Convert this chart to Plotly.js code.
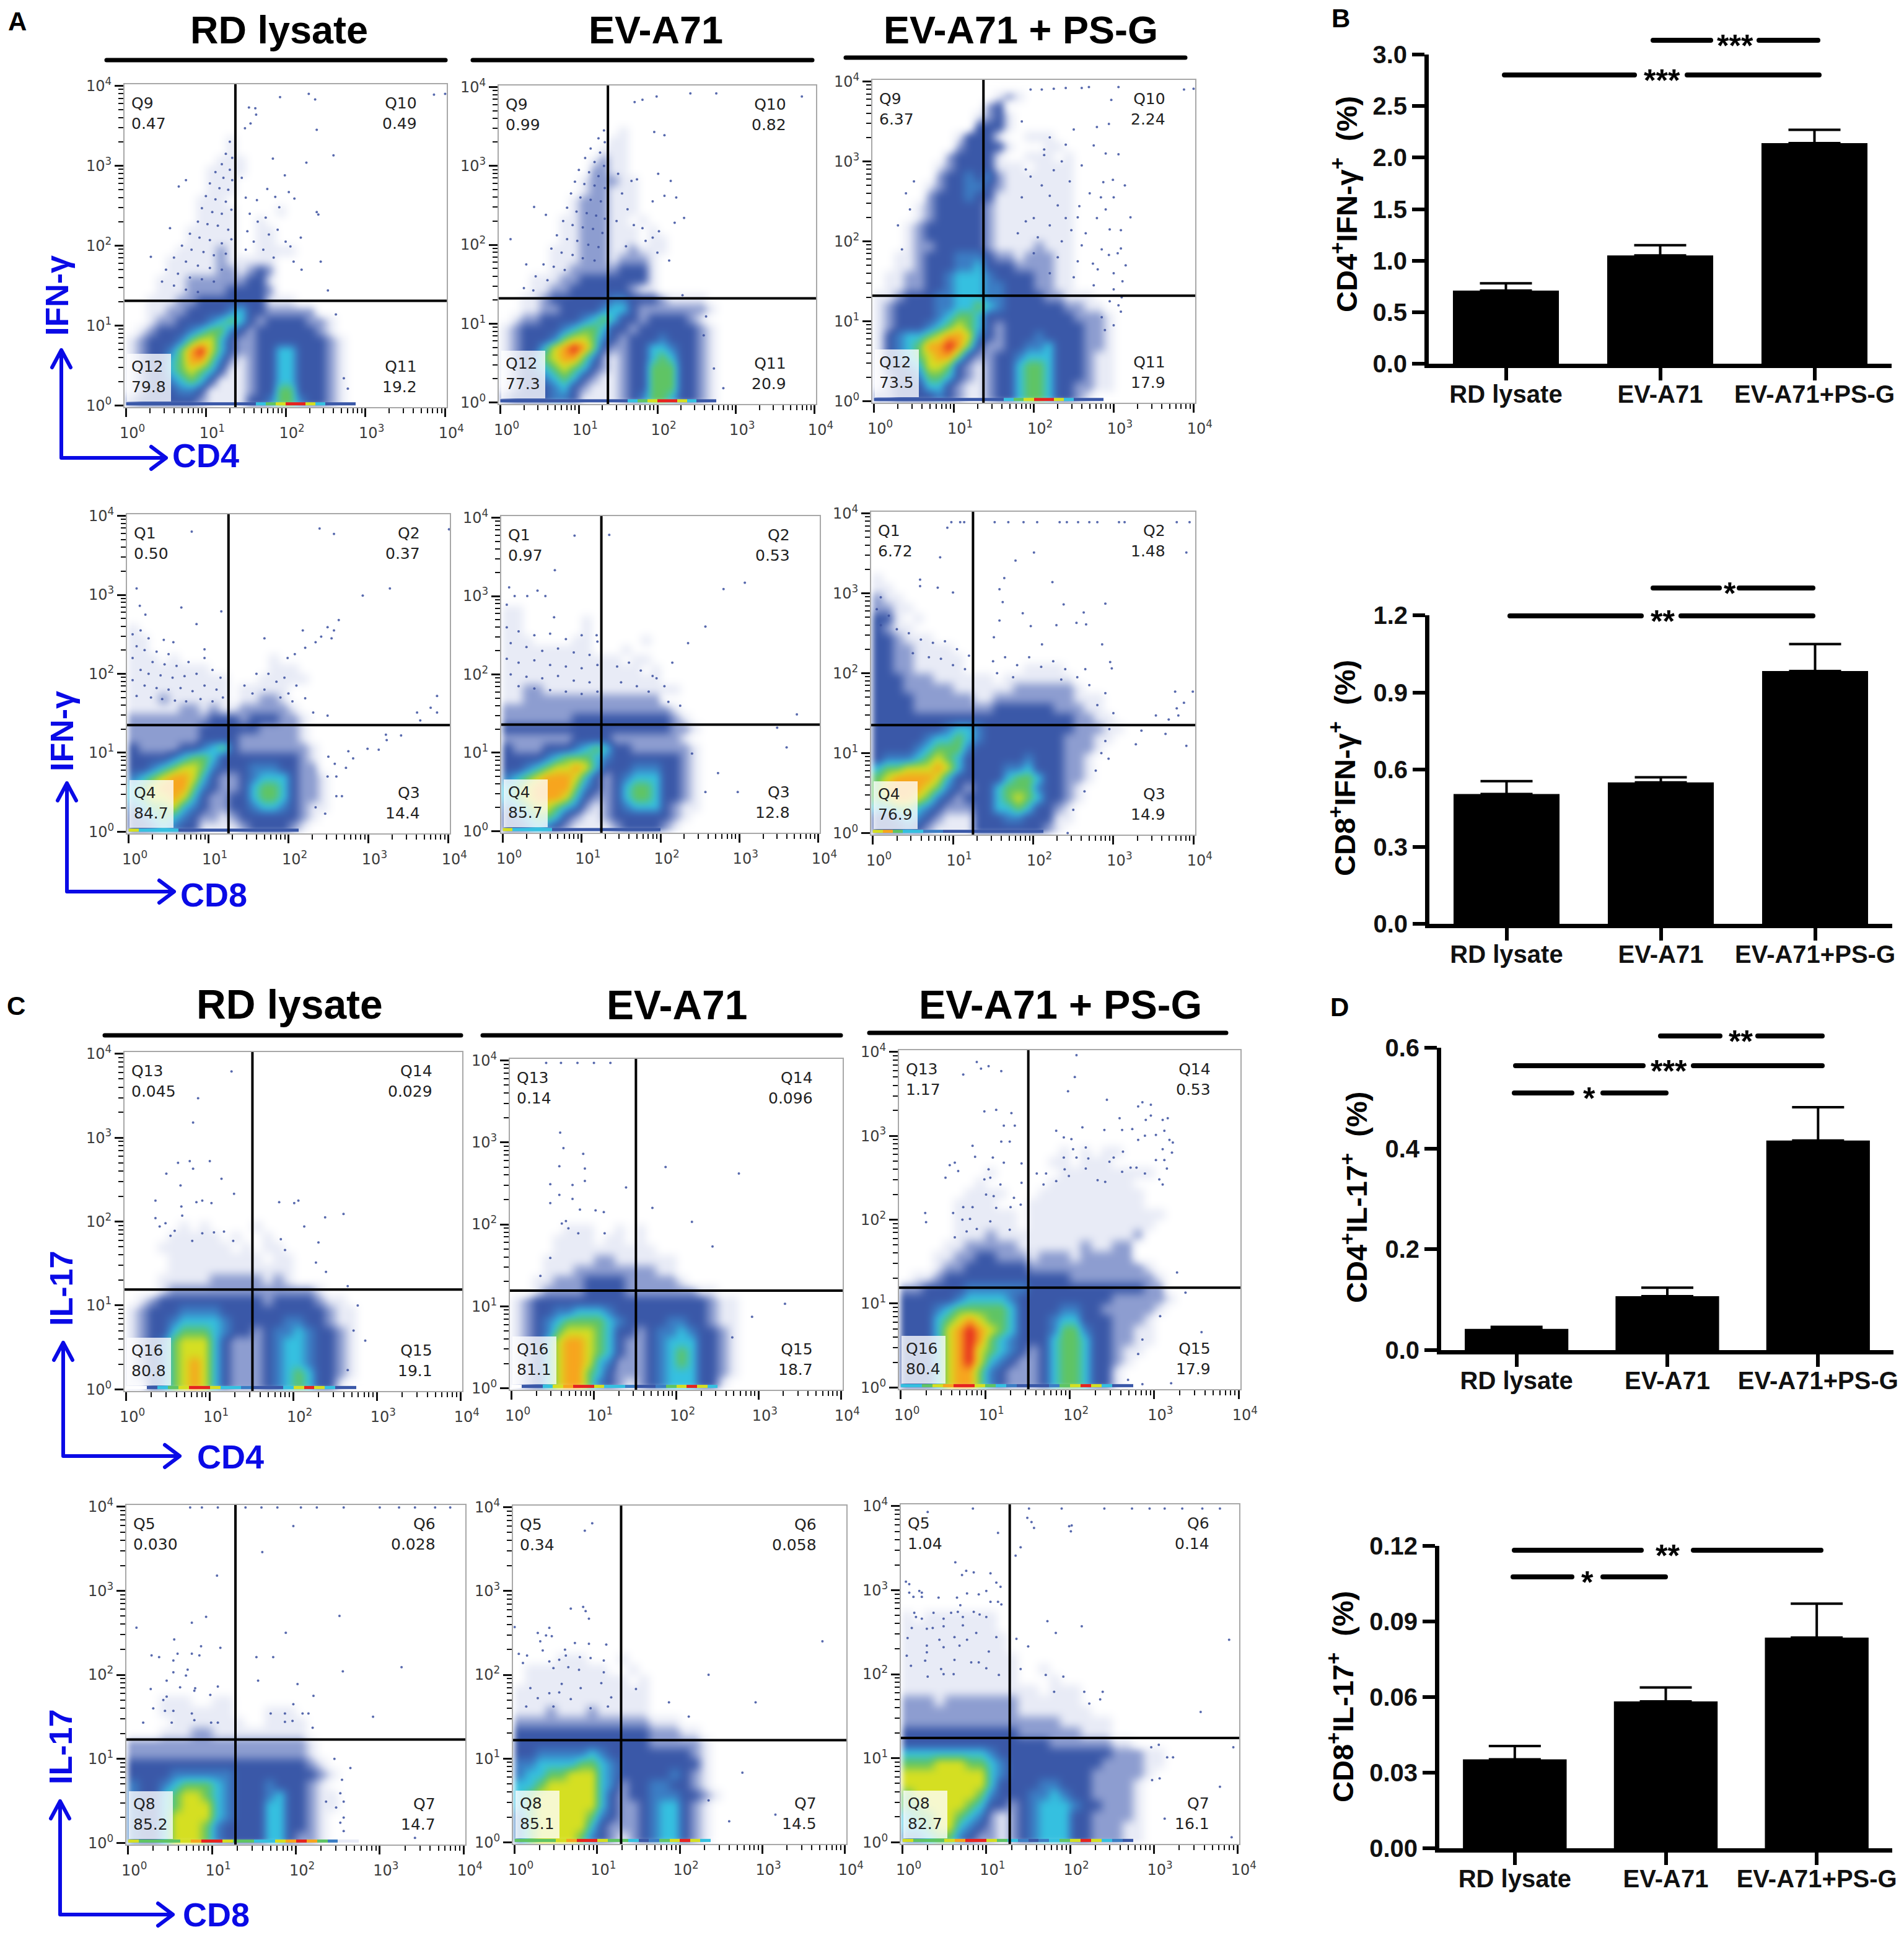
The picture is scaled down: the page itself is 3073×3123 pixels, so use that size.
<!DOCTYPE html>
<html>
<head>
<meta charset="utf-8">
<script src="https://cdn.plot.ly/plotly-3.0.1.min.js"></script>
<style>
  html, body { margin: 0; padding: 0; background: #fff; }
  .shapelayer path { stroke-linecap: round; stroke-linejoin: round; }
  .heatmaplayer .hm:first-child image { filter: blur(5px); }
</style>
</head>
<body>
<div id="figure"></div>
<script>
// bar panels, values
const groups = ['RD lysate', 'EV-A71', 'EV-A71+PS-G']
const cd4Ifn = [0.71, 1.05, 2.14]
const cd4IfnErr = [0.07, 0.10, 0.13]
const cd8Ifn = [0.505, 0.55, 0.983]
const cd8IfnErr = [0.05, 0.02, 0.105]
const cd4Il17 = [0.042, 0.107, 0.416]
const cd4Il17Err = [0.004, 0.017, 0.066]
const cd8Il17 = [0.0353, 0.0583, 0.0836]
const cd8Il17Err = [0.0053, 0.0055, 0.0135]

const cd4IfnTicks = ['0.0', '0.5', '1.0', '1.5', '2.0', '2.5', '3.0']
const cd8IfnTicks = ['0.0', '0.3', '0.6', '0.9', '1.2']
const cd4Il17Ticks = ['0.0', '0.2', '0.4', '0.6']
const cd8Il17Ticks = ['0.00', '0.03', '0.06', '0.09', '0.12']

// quadrant names and percentages: top left, top right, bottom right, bottom left
const qA1 = ['Q9', 'Q10', 'Q11', 'Q12']
const qA2 = ['Q1', 'Q2', 'Q3', 'Q4']
const qC1 = ['Q13', 'Q14', 'Q15', 'Q16']
const qC2 = ['Q5', 'Q6', 'Q7', 'Q8']
const pctA1 = [['0.47', '0.49', '19.2', '79.8'], ['0.99', '0.82', '20.9', '77.3'], ['6.37', '2.24', '17.9', '73.5']]
const pctA2 = [['0.50', '0.37', '14.4', '84.7'], ['0.97', '0.53', '12.8', '85.7'], ['6.72', '1.48', '14.9', '76.9']]
const pctC1 = [['0.045', '0.029', '19.1', '80.8'], ['0.14', '0.096', '18.7', '81.1'], ['1.17', '0.53', '17.9', '80.4']]
const pctC2 = [['0.030', '0.028', '14.7', '85.2'], ['0.34', '0.058', '14.5', '85.1'], ['1.04', '0.14', '16.1', '82.7']]

// gate positions in decades
const gatesX = [1.37, 1.37, 1.37, 1.25, 1.25, 1.25, 1.51, 1.51, 1.51, 1.28, 1.29, 1.28]
const gatesY = [1.31, 1.32, 1.32, 1.35, 1.36, 1.35, 1.19, 1.19, 1.19, 1.23, 1.22, 1.24]

// density read by eye, one digit per 1/8 decade cell (0 empty .. 9 red).
// rows run top to bottom and end at the axis, missing cells are empty
const gridA1a = ['00000000001', '00000000001', '0000000001110', '000000001111', '00000000111', '00000000111', '0000000111', '0000000111100001', '00000001111001', '000000111110011', '00000011111001100', '00000111121001111', '0000111112111110', '000011111221232', '0001112222223310', '000111222233332', '0011122333333311100', '0011223333453322222', '0012233345653233332210', '0123334566432333333210', '1233346775322333333321', '1233468975322335533321', '1233568864212335533321', '1233567653112335533321', '1233456531112335533321', '1233344311112336633321', '2333333211113346643321']
const gridA1b = ['0000000000001', '0000000000011', '00000000001110', '0000000001211', '0000000002211', '00000000122211', '00000000122111', '00000001222111', '00000001222111', '0000001122211010', '0000001122211101', '00000011222111011', '00000111222112111', '0000011122212221', '0000011222223331', '0001112233333331', '0001122333333211', '0011233333344333211110', '0011223333455322222221', '0122333345653323333210', '1233334566533233333321', '1233346776432333433321', '1233578986322335543321', '1234678864212335653321', '1234567653212336663321', '1233456532112336663321', '1233345321112336663321', '2333344311112346653321']
const gridA1c = ['000000000000121000', '0000000000023', '000000000012310', '00000000003331', '000000001333100111', '0000000023333100011', '00000002333310011101', '00000012333311101111', '000000233434211111110', '00000123344321111111', '00000233343311111111', '00001233333211111111', '00001233333211111111', '00012333333211111111', '00012333333211111111', '00012233333211112111', '00112333444322122211', '00112333445333222211', '01122334555433332211', '01122334555443332211', '11233344555443333221110', '12333344556543333332211', '123333456653333333332221', '123334567653233333333221', '134556788743233343333221', '134568898632233445333221', '134567886322334555333211', '133457763212335665333211', '123346653212335665333211', '123335532112335665332211', '223333432112335665332100']
const gridA2a = ['1', '11', '11', '1110100000000010', '11111111000000111', '111111111100011111', '1111111111011111', '1112111111011221', '11111221211222221', '2222222233323332210', '22222223333332222100', '2222222333322222210', '3222233456322222221', '33334566533333333210', '3345677643334443322', '45678875322345553221', '56788864322356653221', '56778753223356653221', '45667543223345543211', '34565432212333333210', '33454331111233332100']
const gridA2b = ['11', '1100000010', '11000000100', '111000011000001', '1111111110001', '1111111111110110', '1111111111111101', '1111111111111111', '1122111111111111110', '1122222222222222', '2222222222222222210', '22222223333333333210', '33333333333333333221', '2222222333322222221', '32223334565332222221', '33334566654333333321', '33456778753334443321', '45678887532345553321', '56788886432356653321', '56788875322356653321', '45677654212345553211', '34566532112333333210', '33454321111233332100']
const gridA2c = ['10', '110', '211', '2211', '33101', '3211000000000', '3321110', '33221111', '332211111', '3322111110000001111', '33322211111101111111', '3332222211111122222210', '33332222221122222222111', '33332222222233333322211', '3333333333333333333322110', '33333334554333333333222110', '3333345565433333333222110', '3333456664333333333222100', '3444567653333334333221000', '5667778753333445333221', '6788887533333566533221', '6888876432335666433210', '6788764323335676533210', '5566543222335565332100', '3345432111333443331100', '3334321111333333321000']
const gridC1a = ['000001010000100', '000011111010010', '000111111101011', '00001111111110110', '00001111111111110', '00011111222221210', '0001222222222222221000', '0123333333333233332110', '1233344443333333333211', '1233455554333334433211', '1233566654332344543321', '1234677753222345543321', '1234677753222345543321', '1234678753222345543321', '1234678753222345653321', '1134678753222345653310']
const gridC1b = ['00000111001010', '0000111101101', '00001111111111', '0001111122111111', '0001112222222211', '00112223333222221', '0012222333322222221100', '1233333333333333333211', '1233445554333333333211', '1234566665433334433211', '1234677765332344543321', '1235788765322345553321', '1235788765322345653321', '1235788754222345653321', '1235788653222345553321', '1235788643212345553310']
const gridC1c = ['0000000000000001010110', '00000000000000110111', '000000001000000111111111', '0000000100000011111111', '00000011110001111111111', '00000111100011111111111', '0000011111101111111111111', '000001111110111111111111', '00000111211111111111112', '0000112222211111121122', '0001122332221222122222', '000122333333222222222221', '0112333333333333222222221', '2233334444443333333333322', '33333455554333333333222221', '33345666665333344332222210', '33356787665333455333222100', '33357898765333466433221100', '33357898654333566533221100', '33357897654323566533211000', '33357897543223566533210000', '33357886432223566533100000', '33357886432223566533100000']
const gridC2a = ['0001110011000000', '0001111111000111', '00001111111001111', '000111221111111110', '22222222222222222100', '22222222222222222100', '333333333333333332100', '333344444433333333210', '4334566654333433321', '4335677654333453321100', '4335677754333553321100', '4335777754333553321000', '4335777643333553321000', '4335777643333553221000']
const gridC2b = ['00001110001000000', '011111111001', '0111111111101', '1111111111111', '1111111111111', '1112111211111', '2222222222222111', '3333333333333222110', '33333333333332222210', '33444445433333333210', '4455556654333333331', '45566777543333343210', '55677777542334433210', '56777777532334443321', '56777777532234553210', '46777776432234553210', '46777775322234553210', '46777764321234553210']
const gridC2c = ['101111111', '1111111110', '1111111111', '1111111111', '11111111111000', '11111111111001', '1111111111100010', '11111111111110111', '22212222222111111', '2222222222211111110', '222222222222222111110', '3333333333322222211100', '33333333333333222222110', '55555555433333333333222110', '66677766543333333332222110', '77777777543333333322222100', '77777777533334433322221', '67777776433344543322221', '66777765332345554332221', '56677654212345553322221', '55677543212345553322211', '44566432212345553322211']

// thin strip lying on the x axis
const edgeA1a = '33333333333335679975333'
const edgeA1b = '3333333333333567997533'
const edgeA1c = '33333333333335679975333'
const edgeA2a = '75555333333333333'
const edgeA2b = '7555533333333333'
const edgeA2c = '78655443333333333'
const edgeC1a = '0035679975543335797533'
const edgeC1b = '03357899755433467975'
const edgeC1c = '5567899765433346797533'
const edgeC2a = '7666678997665578986411'
const edgeC2b = '6666789976653467975'
const edgeC2c = '7666789976543456797543'

// single events, [x, y] in decades
const dotsA1a = [[2.29,3.9],[1.93,3.86],[2.37,3.83],[3.86,3.89],[4,3.9],[1.54,3.73],[1.62,3.72],[1.63,3.64],[1.56,3.53],[1.49,3.47],[2.39,3.45],[2.6,3.13],[1.84,3.09],[2.26,3.04],[1.99,2.88],[.75,2.82],[.66,2.74],[1.77,2.71],[1.87,2.61],[2.04,2.67],[2.11,2.59],[1.64,2.57],[2.39,2.42],[2.41,2.39],[1.92,2.48],[.55,2.22],[.31,1.86],[2.44,1.8],[2.19,2.1],[2.53,1.44],[2.63,1.14],[2.78,.21],[2.73,.34],[1.52,2.18],[1.79,2.14],[2.06,1.99],[1.3,3.3],[1.25,3.15],[1.33,3.1],[1.2,3.02],[1.3,2.95],[1.12,2.92],[1.22,2.85],[1.33,2.82],[1.05,2.78],[1.17,2.72],[1.28,2.7],[1,2.62],[1.12,2.58],[1.25,2.55],[.95,2.47],[1.08,2.42],[1.2,2.4],[1.32,2.45],[.9,2.3],[1.02,2.27],[1.15,2.25],[1.28,2.2],[.8,2.15],[.92,2.1],[1.05,2.07],[1.2,2.03],[1.32,2.08],[.7,2],[.82,1.95],[.97,1.92],[1.1,1.88],[1.25,1.9],[.6,1.85],[.75,1.8],[.9,1.75],[1.05,1.72],[1.2,1.7],[.5,1.7],[.65,1.65],[.8,1.6],[.95,1.58],[1.1,1.55],[.45,1.55],[.6,1.5],[.75,1.45],[.9,1.42],[1.45,2.85],[1.5,2.6],[1.55,2.4],[1.65,2.3],[1.75,2.35],[1.9,2.2],[2,2.05],[1.6,2.05],[1.72,1.95],[1.85,1.85],[2.1,1.8],[2.2,1.7],[1.5,1.95]]
const dotsA1b = [[1.71,3.81],[1.81,3.84],[1.99,3.88],[2.42,3.92],[2.75,3.92],[3.84,3.88],[1.96,3.43],[2.09,3.39],[2.01,2.9],[1.67,2.81],[2.17,2.81],[1.74,2.83],[2.09,2.62],[2.24,2.6],[1.94,2.55],[2.34,2.34],[2.22,2.28],[1.94,2.09],[1.81,2.21],[2.02,2.17],[2.32,1.36],[2.62,1.09],[2.72,.43],[2.84,.18],[2.59,.85],[.13,2.07],[.43,2.48],[.58,2.38],[.33,1.75],[1.32,3.45],[1.25,3.35],[1.33,3.3],[1.15,3.22],[1.27,3.17],[1.08,3.1],[1.2,3.05],[1.32,3],[1,2.95],[1.13,2.92],[1.25,2.87],[.95,2.8],[1.07,2.77],[1.2,2.75],[1.33,2.72],[.9,2.65],[1.02,2.6],[1.15,2.57],[1.28,2.55],[.85,2.47],[.97,2.42],[1.1,2.4],[1.22,2.37],[1.33,2.33],[.8,2.3],[.92,2.25],[1.05,2.22],[1.18,2.2],[1.3,2.15],[.72,2.12],[.85,2.07],[.98,2.05],[1.12,2],[1.25,1.97],[.65,1.95],[.78,1.9],[.92,1.87],[1.05,1.83],[1.2,1.8],[.55,1.75],[.68,1.72],[.82,1.68],[.45,1.6],[.6,1.55],[.3,1.45],[.42,1.42],[1.5,2.9],[1.55,2.65],[1.62,2.45],[1.48,2.3],[1.7,2.25],[1.85,2.05],[2,1.9],[2.15,1.8],[1.6,1.98]]
const dotsA1c = [[1.96,3.9],[2.1,3.9],[2.25,3.91],[2.4,3.92],[2.6,3.92],[2.69,3.93],[3.06,3.93],[3.88,3.9],[4,3.91],[2.97,3.77],[2.79,3.43],[2.94,3.47],[2.13,3.15],[2.4,3.21],[3.06,3.09],[2.13,3.08],[1.96,2.81],[2.25,2.89],[2.87,2.74],[2.99,2.77],[3.14,2.7],[2.2,2.57],[2.84,2.55],[2.57,2.44],[3.21,2.3],[2.79,2.29],[2.4,2.29],[2,2.29],[2.47,2.14],[3.09,2.14],[3.09,1.91],[2.94,1.83],[2.74,1.72],[3.11,1.5],[3.06,1.2],[3.09,1.12],[2.89,.89],[1.85,3.5],[2.5,3.4],[2.2,3.3],[2.75,3.2],[2.9,3.1],[2.35,3],[2.6,2.95],[1.9,2.9],[2.1,2.7],[2.45,2.75],[2.7,2.6],[3,2.55],[1.85,2.55],[2.3,2.45],[2.55,2.3],[2.9,2.4],[1.9,2.25],[2.2,2.2],[2.65,2.1],[2.95,2.15],[1.8,2.1],[2.05,2.05],[2.35,2],[2.6,1.95],[2.85,1.9],[3.05,1.85],[2,1.85],[2.3,1.8],[2.55,1.75],[2.8,1.65],[3,1.6],[3.15,1.7],[2.2,1.6],[2.5,1.55],[2.75,1.45],[3,1.4],[2.95,1.25],[3.1,1.3],[2.85,1.05],[3,.95],[.4,2.6],[.5,2.75],[.45,2.4],[.3,2.2],[.35,1.9]]
const dotsA2a = [[.79,3.8],[2.39,3.84],[2.57,3.77],[4.01,3.83],[.1,3.08],[3.27,3.08],[2.93,2.99],[.14,2.86],[.66,2.84],[1.16,2.79],[.21,2.75],[.85,2.63],[2.63,2.68],[2.49,2.59],[2.57,2.55],[2.18,2.55],[1.7,2.45],[2.41,2.47],[2.54,2.45],[2.34,2.4],[2.21,2.33],[2.08,2.25],[1.99,2.2],[.95,2.31],[.44,2.43],[.56,2.4],[3.86,1.72],[3.78,1.57],[3.61,1.51],[3.86,1.51],[3.65,1.41],[2.21,1.69],[2.31,1.51],[2.49,1.47],[3.22,1.23],[3.41,1.22],[3.23,1.16],[2.99,1.05],[3.13,1.04],[2.75,1.02],[2.81,.93],[2.5,.95],[2.58,.86],[2.72,.81],[2.6,.7],[2.49,.7],[2.6,.45],[2.67,.45],[2.34,.31],[2.46,.23],[.05,2.5],[.15,2.55],[.25,2.45],[.1,2.35],[.2,2.3],[.35,2.28],[.5,2.25],[.05,2.2],[.3,2.15],[.45,2.12],[.6,2.1],[.75,2.15],[.95,2.2],[1.05,2.05],[.15,2.05],[.25,2],[.4,1.98],[.55,1.95],[.7,1.97],[.85,2],[1.15,1.95],[.05,1.92],[.2,1.85],[.35,1.82],[.5,1.8],[.65,1.82],[.8,1.78],[.95,1.85],[1.1,1.8],[.1,1.72],[.28,1.7],[.42,1.68],[.58,1.66],[.72,1.65],[.9,1.68],[1.05,1.65],[1.18,1.7],[1.45,1.85],[1.6,2],[1.75,2],[1.85,1.9],[1.95,1.95],[2,1.75],[1.7,1.8],[1.55,1.75],[2.1,1.85],[2.05,1.65],[1.9,1.7]]
const dotsA2b = [[.91,3.77],[1.35,3.78],[.66,3.33],[.08,3.11],[.15,3],[.31,3],[.44,3.07],[.54,3],[.05,2.89],[.65,2.73],[1.19,2.5],[3.07,3.17],[2.8,3.09],[2.57,2.61],[2.35,2.4],[2.15,2.15],[1.9,1.98],[3.73,1.49],[3.48,1.32],[3.6,1.07],[2.4,.99],[2.73,.74],[2.98,.5],[2.57,.5],[.05,2.6],[.2,2.55],[.4,2.5],[.6,2.52],[.8,2.45],[1,2.5],[1.2,2.42],[.1,2.4],[.3,2.35],[.5,2.3],[.7,2.33],[.9,2.28],[1.1,2.25],[.05,2.2],[.2,2.15],[.4,2.18],[.6,2.12],[.8,2.1],[1,2.08],[1.2,2.12],[.1,2],[.3,1.97],[.5,1.95],[.7,1.98],[.9,1.92],[1.1,1.9],[.2,1.85],[.4,1.82],[.6,1.8],[.8,1.78],[1,1.75],[1.2,1.78],[1.45,2.1],[1.6,2.15],[1.75,2.05],[1.95,1.95],[2.05,1.85],[1.5,1.9],[1.7,1.85],[1.85,1.78],[2.1,1.65],[2.25,1.6]]
const dotsA2c = [[.98,3.89],[1.09,3.89],[1.14,3.89],[1.52,3.89],[1.69,3.89],[1.88,3.89],[2.05,3.89],[2.33,3.89],[2.42,3.89],[2.56,3.89],[2.7,3.89],[2.8,3.89],[3.07,3.89],[3.14,3.89],[3.79,3.89],[3.95,3.89],[.93,3.82],[2.01,3.51],[1.78,3.41],[3.91,3.51],[.84,3.45],[1.64,3.19],[.59,3.17],[2.24,3.14],[.59,3.09],[.81,3.07],[1.58,3.05],[1,3.01],[2.9,2.87],[2.38,2.86],[1.62,2.89],[1.87,2.75],[2.63,2.76],[2.54,2.63],[2.66,2.61],[2.29,2.6],[1.97,2.59],[1.58,2.66],[1.51,2.45],[2.86,2.36],[2.11,2.36],[2.96,2.14],[2.98,2.06],[3.77,1.77],[3.88,1.63],[3.79,1.56],[3.99,1.77],[3.53,1.47],[3.81,1.47],[3.69,1.42],[3.35,1.28],[3.65,1.24],[3.28,1.11],[3.91,1.09],[2.94,.93],[2.78,.78],[2.64,.52],[2.5,.29],[2.43,0],[.1,2.95],[.05,2.8],[.2,2.72],[.1,2.6],[.3,2.55],[.45,2.5],[.6,2.42],[.75,2.38],[.9,2.4],[1.05,2.3],[1.2,2.22],[.5,2.25],[.7,2.2],[.85,2.18],[1,2.1],[1.15,2.05],[1.5,2.15],[1.65,2.2],[1.8,2.1],[1.95,2.2],[2.1,2.08],[2.25,2.15],[2.4,2.05],[2.55,1.95],[2.65,2.05],[1.55,2],[1.75,1.95],[2.35,1.92],[2.7,1.85],[2.9,1.75],[2.8,1.6],[3,1.5],[2.95,1.3],[2.9,1.15],[2.85,1]]
const dotsC1a = [[1.26,3.79],[.86,3.47],[.8,3.18],[.62,2.7],[.76,2.72],[1,2.72],[.8,2.63],[.48,2.57],[1.14,2.51],[.65,2.43],[1.29,2.33],[.35,2.25],[.91,2.25],[.84,2.23],[1.02,2.22],[.66,2.18],[1.83,2.23],[2.01,2.22],[2.06,2.25],[2.6,2.09],[2.38,2.05],[.67,2.07],[.35,2.04],[.47,1.98],[.4,1.94],[2.13,1.94],[.58,1.89],[.53,1.83],[.91,1.86],[1.05,1.87],[1.17,1.88],[1.85,1.79],[2.3,1.75],[1.28,1.77],[.79,1.77],[1.9,1.66],[2.27,1.51],[2.39,1.4],[2.77,1],[2.86,.58],[2.72,.7],[2.65,.23],[2.65,1.23]]
const dotsC1b = [[.42,3.97],[.6,3.97],[.8,3.97],[1,3.97],[1.2,3.97],[.59,3.12],[.63,2.93],[.87,2.86],[.58,2.71],[.89,2.68],[.47,2.49],[.74,2.48],[.89,2.53],[.58,2.36],[.74,2.31],[.47,2.26],[.83,2.18],[1.02,2.17],[1.12,2.15],[.66,2.04],[.61,2.01],[.69,1.95],[.81,1.89],[1.13,1.89],[.47,1.59],[.35,1.37],[2.76,2.62],[1.87,2.7],[1.71,2.2],[2.19,2.03],[1.39,2.45],[2.44,1.73],[2.92,.87],[2.68,.62],[3.32,1.03]]
const dotsC1c = [[2.08,3.96],[2.06,3.7],[1.98,3.53],[2.44,3.43],[2.86,3.4],[2.81,3.35],[2.96,3.37],[2.96,3.24],[2.59,3.21],[2.9,3.19],[3.1,3.19],[3.16,3.21],[2.15,3.1],[2.41,3.07],[1.84,3.06],[2.62,3.07],[2.74,3.08],[3.12,3.06],[1.93,2.98],[2.02,2.96],[2.81,2.95],[2.89,3],[3.02,3.01],[3.18,2.95],[3.22,2.92],[2.19,2.86],[2.04,2.84],[3.1,2.84],[2.63,2.81],[3.21,2.8],[1.93,2.74],[2.08,2.74],[2.22,2.73],[2.52,2.74],[2.47,2.69],[3.02,2.71],[3.12,2.71],[1.94,2.6],[2.19,2.61],[2.72,2.62],[2.79,2.62],[3.15,2.61],[1.61,2.55],[1.72,2.55],[2.62,2.57],[2.89,2.55],[1.99,2.52],[1.84,2.46],[2.33,2.47],[2.42,2.45],[3.06,2.48],[3.1,2.42],[1.69,2.42],[.9,3.88],[.95,3.8],[1.04,3.83],[1.19,3.77],[.74,3.73],[.99,3.29],[1.13,3.31],[1.31,3.27],[1.22,3.12],[1.35,3.12],[1.19,2.93],[1.29,2.93],[.85,2.88],[.88,2.75],[1.09,2.74],[.58,2.65],[.64,2.68],[1.22,2.68],[1.43,2.67],[.68,2.58],[1.04,2.6],[.53,2.5],[.99,2.48],[1.06,2.5],[1.18,2.42],[1.43,2.44],[1.01,2.3],[1.1,2.28],[1.34,2.26],[.74,2.15],[.85,2.15],[.29,2.08],[.3,1.97],[.62,2.08],[.73,2],[.82,2.01],[1.13,2.14],[1.3,2.15],[1.42,2.18],[1.06,1.98],[.78,1.86],[.64,1.79],[.9,1.89],[1.29,1.88],[3.27,1.37],[3.37,1.13],[3.07,.85],[3.56,.66],[2.86,.57],[2.81,.4],[2.69,.09],[2.86,.04],[3.2,.05]]
const dotsC2a = [[.74,3.99],[.88,3.99],[1.07,3.99],[1.4,3.99],[1.59,3.99],[1.78,3.99],[2.06,3.99],[2.25,3.99],[2.57,3.99],[3,3.99],[3.23,3.99],[3.42,3.99],[3.66,3.99],[3.84,3.99],[1.97,3.77],[1.6,3.46],[1.06,3.18],[2.52,2.7],[.93,2.69],[.76,2.62],[.1,2.56],[1.88,2.5],[.55,2.42],[.87,2.34],[1.1,2.32],[.59,2.25],[.76,2.25],[.85,2.23],[.28,2.23],[.37,2.21],[1.53,2.21],[1.73,2.21],[.54,2.17],[3.26,2.09],[2.56,2.04],[.71,2.06],[.54,2.03],[.69,1.99],[1.55,1.93],[.46,1.93],[2.02,1.89],[1.07,1.86],[.62,1.85],[.8,1.84],[.27,1.83],[.79,1.81],[.98,1.76],[2.21,1.75],[.46,1.74],[.42,1.7],[1.97,1.65],[.3,1.6],[.44,1.57],[.54,1.57],[.76,1.54],[1.7,1.54],[1.87,1.54],[2.08,1.54],[2.15,1.54],[2.92,1.5],[.18,1.43],[.79,1.46],[.99,1.43],[1.07,1.43],[.52,1.43],[1.96,1.45],[1.87,1.44],[2.2,1.37],[2.46,1],[2.65,.89],[2.55,.75],[2.53,.59],[2.57,.49],[2.36,.49],[2.48,.42],[2.57,.3],[2.53,.24],[2.57,.14],[3.42,.06]]
const dotsC2b = [[.94,3.81],[.85,3.72],[.68,2.79],[.83,2.81],[.86,2.76],[.9,2.67],[0,2.57],[.42,2.56],[.28,2.5],[.38,2.47],[.45,2.46],[.31,2.4],[.73,2.38],[.9,2.37],[1.11,2.36],[.34,2.29],[.61,2.3],[.05,2.25],[.15,2.23],[.62,2.23],[.79,2.21],[.92,2.2],[.54,2.18],[1.08,2.17],[.1,2.14],[.42,2.16],[.65,2.09],[.47,2.08],[.78,2.06],[1.08,2.03],[.57,1.89],[1.05,1.9],[.19,1.84],[.42,1.78],[.54,1.79],[.8,1.84],[.28,1.72],[.68,1.71],[1.17,1.73],[.47,1.62],[.14,1.62],[.92,1.6],[1.13,1.62],[3.73,2.4],[2.92,1.67],[2.35,2],[1.87,1.67],[1.47,1.83],[2.11,1.5],[2.76,.83],[2.6,.25],[2.35,.5],[3.16,.33]]
const dotsC2c = [[.84,3.97],[1.51,3.97],[1.9,3.97],[2.41,3.97],[2.74,3.97],[2.95,3.97],[3.13,3.97],[3.34,3.97],[3.58,3.97],[3.79,3.97],[.3,3.93],[1.49,3.86],[1.54,3.81],[1.57,3.74],[2.02,3.77],[1.99,3.76],[2.01,3.7],[1.14,3.68],[1.41,3.51],[1.35,3.41],[.63,3.33],[.76,3.23],[.71,3.18],[.85,3.21],[1.05,3.2],[.04,3.1],[1.12,3.09],[.08,3.07],[1.17,3.04],[.2,2.99],[.23,2.97],[1,2.99],[.77,2.96],[.08,2.97],[.13,2.92],[.43,2.91],[.65,2.91],[.91,2.95],[.23,2.92],[1.05,2.86],[1.14,2.86],[1.18,2.83],[.69,2.82],[.14,2.73],[.37,2.73],[.58,2.73],[.66,2.74],[.85,2.74],[.92,2.71],[.16,2.68],[.23,2.66],[.49,2.66],[.72,2.68],[1,2.68],[1.73,2.63],[2.14,2.57],[.11,2.55],[.29,2.54],[.36,2.55],[.49,2.57],[.72,2.58],[1.83,2.49],[3.9,2.41],[1.36,2.42],[.06,2.43],[.44,2.41],[.62,2.44],[.77,2.41],[.88,2.49],[1.12,2.44],[1.5,2.33],[.29,2.34],[.49,2.32],[.68,2.34],[1.03,2.27],[.05,2.22],[.29,2.26],[.62,2.17],[.27,2.16],[.82,2.14],[.91,2.14],[1.41,2.06],[.1,2.1],[.46,2.06],[1,2.07],[1.71,1.99],[1.92,1.97],[.49,2],[.61,2],[1.15,1.99],[.3,1.97],[1.81,1.79],[2.17,1.79],[2.39,1.79],[3.56,1.55],[2.36,1.7],[2.23,1.65],[3.23,1.01],[3.16,1.01],[3.95,1.13],[3.79,.66],[3.06,1.16],[2.97,1.13],[3.07,.76],[3.13,.28],[3.93,.06],[2.98,.74]]

// page layout, everything below is pixels on the 3073x3123 page
const W = 3073
const H = 3123
const fx = (x) => x / W
const fy = (y) => 1 - y / H

const DARK = '#111'
const BLUE = '#0a0ae6'
const DOT = '#3a4f9f'
const BOLD = 'Liberation Sans, Arial, sans-serif'
const FLOW = 'DejaVu Sans, sans-serif'

const density = [
  [0, '#ffffff'], [1 / 9, '#e8ebf6'], [2 / 9, '#8d9dd0'], [3 / 9, '#3a58a8'], [4 / 9, '#3b7dc4'],
  [5 / 9, '#35c0e0'], [6 / 9, '#5fc464'], [7 / 9, '#d5df22'], [8 / 9, '#f7a51e'], [1, '#e6231f'],
]

// left, right, top, bottom of each flow panel
const flowFrames = [
  [201, 721, 136, 657], [805, 1317, 138, 652], [1408, 1929, 129, 650],
  [205, 726, 830, 1345], [809, 1323, 833, 1344], [1406, 1929, 826, 1347],
  [201, 746, 1698, 2245], [823, 1360, 1709, 2243], [1451, 2002, 1695, 2242],
  [204, 751, 2429, 2977], [828, 1366, 2430, 2976], [1454, 2000, 2428, 2976],
]
const flowGrids = [gridA1a, gridA1b, gridA1c, gridA2a, gridA2b, gridA2c, gridC1a, gridC1b, gridC1c, gridC2a, gridC2b, gridC2c]
const flowEdges = [edgeA1a, edgeA1b, edgeA1c, edgeA2a, edgeA2b, edgeA2c, edgeC1a, edgeC1b, edgeC1c, edgeC2a, edgeC2b, edgeC2c]
const flowDots = [dotsA1a, dotsA1b, dotsA1c, dotsA2a, dotsA2b, dotsA2c, dotsC1a, dotsC1b, dotsC1c, dotsC2a, dotsC2b, dotsC2c]
const flowNames = [qA1, qA1, qA1, qA2, qA2, qA2, qC1, qC1, qC1, qC2, qC2, qC2]
const flowPcts = [...pctA1, ...pctA2, ...pctC1, ...pctC2]

const CELL = 0.125
const CELLS = 32
const cellCenters = Array.from({ length: CELLS }, (_, i) => (i + 0.5) * CELL)
const decades = [0, 1, 2, 3, 4]
const decadeLabels = decades.map((d) => `10<sup>${d}</sup>`)
const minorTicks = [0, 1, 2, 3].flatMap((d) => [2, 3, 4, 5, 6, 7, 8, 9].map((k) => d + Math.log10(k)))

const gridToZ = (rows) => {
  const z = []
  for (let k = 0; k < CELLS; k++) {
    const row = rows[rows.length - 1 - k] || ''
    z.push(cellCenters.map((_, i) => Number(row[i] || 0)))
  }
  return z
}

const traces = []
const shapes = []
const annotations = []
const layout = {
  width: W,
  height: H,
  margin: { l: 0, r: 0, t: 0, b: 0 },
  paper_bgcolor: '#fff',
  plot_bgcolor: '#fff',
  showlegend: false,
  shapes,
  annotations,
}

const addText = (text, x, y, size, extra = {}) => {
  annotations.push({
    text, x: fx(x), y: fy(y), xref: 'paper', yref: 'paper', showarrow: false,
    font: { family: BOLD, size, color: '#000', weight: 700 },
    ...extra,
  })
}

const addLine = (x0, y0, x1, y1, width, color = '#000') => {
  shapes.push({ type: 'line', xref: 'paper', yref: 'paper', x0: fx(x0), y0: fy(y0), x1: fx(x1), y1: fy(y1), line: { color, width } })
}

// flow panels
flowFrames.forEach(([left, right, top, bottom], i) => {
  const n = i + 1
  const xName = n === 1 ? 'x' : `x${n}`
  const yName = n === 1 ? 'y' : `y${n}`
  const axisBase = {
    range: [-0.02, 4.02],
    tickmode: 'array', tickvals: decades, ticktext: decadeLabels,
    ticks: 'outside', ticklen: 14, tickwidth: 3, tickcolor: DARK,
    minor: { tickmode: 'array', tickvals: minorTicks, ticks: 'outside', ticklen: 8, tickwidth: 2, tickcolor: DARK },
    showgrid: false, zeroline: false, showline: true, mirror: true, linecolor: '#a8a8a8', linewidth: 2,
    tickfont: { family: FLOW, size: 24, color: '#3c3c3c' },
  }
  layout[`xaxis${n === 1 ? '' : n}`] = { ...axisBase, domain: [fx(left), fx(right)], anchor: yName, ticklabelshift: 10, ticklabelstandoff: 5 }
  layout[`yaxis${n === 1 ? '' : n}`] = { ...axisBase, domain: [fy(bottom), fy(top)], anchor: xName }

  traces.push({
    type: 'heatmap', x: cellCenters, y: cellCenters, z: gridToZ(flowGrids[i]),
    xaxis: xName, yaxis: yName, zmin: 0, zmax: 9, zsmooth: 'best', colorscale: density, showscale: false, hoverinfo: 'skip',
  })
  traces.push({
    type: 'heatmap', x: cellCenters, y0: 0.02, dy: 0.04,
    z: [cellCenters.map((_, c) => (flowEdges[i][c] ? Number(flowEdges[i][c]) : null))],
    xaxis: xName, yaxis: yName, zmin: 0, zmax: 9, colorscale: density, showscale: false, hoverinfo: 'skip',
  })
  traces.push({
    type: 'scatter', mode: 'markers',
    x: flowDots[i].map((d) => d[0]), y: flowDots[i].map((d) => d[1]),
    xaxis: xName, yaxis: yName, cliponaxis: true,
    marker: { color: DOT, size: 4, opacity: 0.85 }, hoverinfo: 'skip',
  })

  // quadrant gates
  shapes.push({ type: 'line', xref: xName, yref: yName, x0: gatesX[i], x1: gatesX[i], y0: -0.02, y1: 4.02, line: { color: '#000', width: 4 } })
  shapes.push({ type: 'line', xref: xName, yref: yName, x0: -0.02, x1: 4.02, y0: gatesY[i], y1: gatesY[i], line: { color: '#000', width: 4 } })

  // pale box behind the bottom-left quadrant label
  shapes.push({
    type: 'rect', xref: 'paper', yref: 'paper', x0: fx(left + 4), x1: fx(left + 75), y0: fy(bottom - 86), y1: fy(bottom - 9),
    fillcolor: 'rgba(255,255,255,0.78)', line: { width: 0 },
  })

  const labelFont = { family: FLOW, size: 25, color: '#222' }
  const label = (q, ax, ay, xanchor, yanchor) => {
    annotations.push({
      text: `${flowNames[i][q]}<br>${flowPcts[i][q]}`, x: fx(ax), y: fy(ay), xref: 'paper', yref: 'paper',
      xanchor, yanchor, align: xanchor, showarrow: false, font: labelFont,
    })
  }
  label(0, left + 9, top + 14, 'left', 'top')
  label(1, right - 46, top + 14, 'right', 'top')
  label(2, right - 46, bottom - 16, 'right', 'bottom')
  label(3, left + 9, bottom - 16, 'left', 'bottom')
})

// bar panels: left, right, top, bottom of the plot area
const barFrames = [[2306, 3053, 88, 587], [2307, 3054, 993, 1491], [2326, 3056, 1691, 2179], [2323, 3054, 2495, 2983]]
const barValues = [cd4Ifn, cd8Ifn, cd4Il17, cd8Il17]
const barErrors = [cd4IfnErr, cd8IfnErr, cd4Il17Err, cd8Il17Err]
const barTicks = [cd4IfnTicks, cd8IfnTicks, cd4Il17Ticks, cd8Il17Ticks]
const barTitles = [
  ['CD4<sup>+</sup>IFN-γ<sup>+</sup>  (%)', 2170, 330],
  ['CD8<sup>+</sup>IFN-γ<sup>+</sup>  (%)', 2167, 1240],
  ['CD4<sup>+</sup>IL-17<sup>+</sup>  (%)', 2186, 1933],
  ['CD8<sup>+</sup>IL-17<sup>+</sup>  (%)', 2164, 2739],
]

barFrames.forEach(([left, right, top, bottom], i) => {
  const n = 13 + i
  const tickNums = barTicks[i].map(Number)
  traces.push({
    type: 'bar', x: groups, y: barValues[i], width: 0.687, xaxis: `x${n}`, yaxis: `y${n}`,
    marker: { color: '#000', line: { width: 0 } },
    error_y: { type: 'data', symmetric: false, array: barErrors[i], arrayminus: [0, 0, 0], color: '#000', thickness: 4, width: 42 },
    hoverinfo: 'skip',
  })
  layout[`xaxis${n}`] = {
    domain: [fx(left), fx(right)], anchor: `y${n}`, type: 'category', range: [-0.5, 2.5],
    showline: true, linecolor: '#000', linewidth: 7, ticks: 'outside', ticklen: 20, tickwidth: 6, tickcolor: '#000',
    ticklabelstandoff: -12,
    showgrid: false, zeroline: false, tickfont: { family: BOLD, size: 40, color: '#111', weight: 700 },
  }
  layout[`yaxis${n}`] = {
    domain: [fy(bottom), fy(top)], anchor: `x${n}`, range: [0, tickNums[tickNums.length - 1]],
    tickmode: 'array', tickvals: tickNums, ticktext: barTicks[i],
    showline: true, linecolor: '#000', linewidth: 7, ticks: 'outside', ticklen: 20, tickwidth: 6, tickcolor: '#000',
    showgrid: false, zeroline: false, tickfont: { family: BOLD, size: 40, color: '#111', weight: 700 },
  }
  const [title, tx, ty] = barTitles[i]
  addText(title, tx, ty, 47, { textangle: -90, xanchor: 'center', yanchor: 'middle' })
})

// significance brackets: y, left segment, right segment, stars and their x
const brackets = [
  [65, 2668, 2761, 2839, 2934, '***', 2800],
  [121, 2428, 2638, 2723, 2936, '***', 2682],
  [949, 2668, 2775, 2807, 2926, '*', 2792],
  [994, 2437, 2649, 2713, 2926, '**', 2683],
  [1672, 2680, 2776, 2837, 2941, '**', 2809],
  [1720, 2446, 2652, 2733, 2941, '***', 2693],
  [1764, 2444, 2537, 2587, 2689, '*', 2565],
  [2502, 2444, 2649, 2733, 2939, '**', 2691],
  [2545, 2442, 2537, 2587, 2688, '*', 2562],
]
brackets.forEach(([y, a, b, c, d, stars, sx]) => {
  addLine(a, y, b, y, 8)
  addLine(c, y, d, y, 8)
  addText(stars, sx, y + 9, 50, { xanchor: 'center', yanchor: 'middle' })
})

// column headers: text, text x, text y, size, rule from, rule to, rule y
const headers = [
  ['RD lysate', 450, 48, 63, 172, 719, 97], ['EV-A71', 1058, 48, 63, 763, 1311, 97], ['EV-A71 + PS-G', 1647, 48, 63, 1365, 1913, 93],
  ['RD lysate', 467, 1621, 66, 169, 744, 1671], ['EV-A71', 1092, 1622, 66, 779, 1357, 1671], ['EV-A71 + PS-G', 1711, 1622, 65, 1403, 1979, 1667],
]
headers.forEach(([text, tx, ty, size, r0, r1, ry]) => {
  addText(text, tx, ty, size, { xanchor: 'center', yanchor: 'middle' })
  addLine(r0, ry, r1, ry, 7)
})

// panel letters
addText('A', 28, 34, 42, { xanchor: 'center', yanchor: 'middle' })
addText('B', 2164, 30, 42, { xanchor: 'center', yanchor: 'middle' })
addText('C', 26, 1623, 42, { xanchor: 'center', yanchor: 'middle' })
addText('D', 2162, 1625, 42, { xanchor: 'center', yanchor: 'middle' })

// blue axis arrows: corner x, corner y, up tip, right tip, x name, its x and y, y name with its position
const arrows = [
  [99, 739, 565, 268, 'CD4', 332, 735, 'IFN-γ', 92, 477],
  [108, 1439, 1264, 281, 'CD8', 345, 1444, 'IFN-γ', 100, 1180],
  [102, 2350, 2167, 290, 'CD4', 372, 2351, 'IL-17', 99, 2079],
  [97, 3090, 2907, 279, 'CD8', 349, 3090, 'IL-17', 98, 2820],
]
arrows.forEach(([cx, cy, up, tip, xName, xText, xTextY, yName, yx, yy]) => {
  const path = [
    `M${fx(cx)},${fy(up)} L${fx(cx)},${fy(cy)} L${fx(tip)},${fy(cy)}`,
    `M${fx(cx - 15)},${fy(up + 28)} L${fx(cx)},${fy(up)} L${fx(cx + 15)},${fy(up + 28)}`,
    `M${fx(tip - 24)},${fy(cy - 18)} L${fx(tip)},${fy(cy)} L${fx(tip - 24)},${fy(cy + 18)}`,
  ].join(' ')
  shapes.push({ type: 'path', xref: 'paper', yref: 'paper', path, line: { color: BLUE, width: 6 } })
  addText(xName, xText, xTextY, 54, { xanchor: 'center', yanchor: 'middle', font: { family: BOLD, size: 54, color: BLUE, weight: 700 } })
  addText(yName, yx, yy, 52, { xanchor: 'center', yanchor: 'middle', textangle: -90, font: { family: BOLD, size: 52, color: BLUE, weight: 700 } })
})

Plotly.newPlot('figure', traces, layout, { displayModeBar: false, staticPlot: true })
</script>
</body>
</html>
